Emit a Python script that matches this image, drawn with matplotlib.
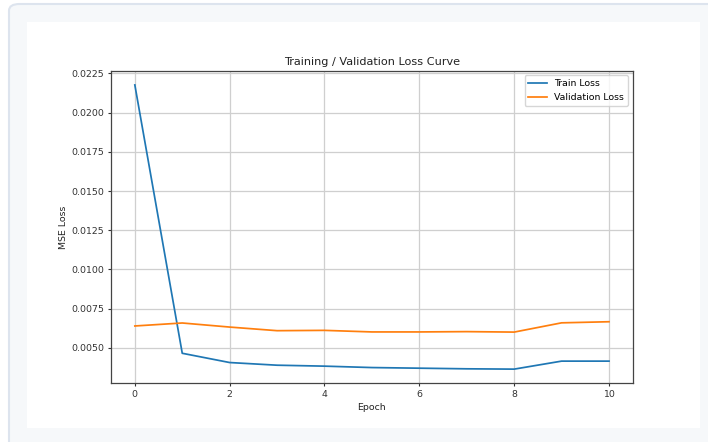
import matplotlib
matplotlib.use("Agg")
import matplotlib.pyplot as plt
from matplotlib.patches import FancyBboxPatch, Rectangle

# loss values per epoch
epochs = list(range(11))
train_loss = [0.02176, 0.00466, 0.00407, 0.00390, 0.00384, 0.00375,
              0.00371, 0.00367, 0.00365, 0.00416, 0.00416]
val_loss = [0.00640, 0.00659, 0.00633, 0.00610, 0.00612, 0.00602,
            0.00602, 0.00604, 0.00601, 0.00660, 0.00667]

W, H = 708, 442
fig = plt.figure(figsize=(W / 100, H / 100), dpi=100)
fig.patch.set_facecolor("white")

# page frame around the embedded figure
frame = FancyBboxPatch((9 / W, -0.2), 1.2, (H - 4) / H + 0.2,
                       boxstyle="round,pad=0,rounding_size=0.015",
                       transform=fig.transFigure, facecolor="#f6f8fa",
                       edgecolor="#dde4ee", linewidth=1.5, zorder=0)
fig.patches.append(frame)

# white image area of the original figure
x0, x1, y0, y1 = 27, 700, 22, 428
fig.patches.append(Rectangle((x0 / W, 1 - y1 / H), (x1 - x0) / W, (y1 - y0) / H,
                             transform=fig.transFigure, facecolor="white",
                             edgecolor="none", zorder=1))

s = 0.673  # scale of the original 1000x600 figure
fw, fh = (x1 - x0), (y1 - y0)
left = (x0 + 0.125 * fw) / W
right = (x0 + 0.9 * fw) / W
bottom = 1 - (y0 + 0.89 * fh) / H
top = 1 - (y0 + 0.12 * fh) / H
ax = fig.add_axes([left, bottom, right - left, top - bottom])
ax.set_zorder(2)

ax.plot(epochs, train_loss, label="Train Loss", linewidth=1.25)
ax.plot(epochs, val_loss, label="Validation Loss", linewidth=1.25)
ax.set_title("Training / Validation Loss Curve", fontsize=12 * s, pad=6 * s,
             color="#222222")
ax.set_xlabel("Epoch", fontsize=10 * s, labelpad=4 * s, color="#222222")
ax.set_ylabel("MSE Loss", fontsize=10 * s, labelpad=4 * s, color="#222222")
ax.tick_params(labelsize=10 * s, width=0.8, length=3.5 * s, pad=3.5 * s,
               colors="#333333")
ax.grid(True, linewidth=0.9, color="#cfcfcf")
for sp in ax.spines.values():
    sp.set_linewidth(0.9)
    sp.set_color("#444444")
ax.legend(fontsize=10 * s)

fig.savefig("out.png", dpi=100)
